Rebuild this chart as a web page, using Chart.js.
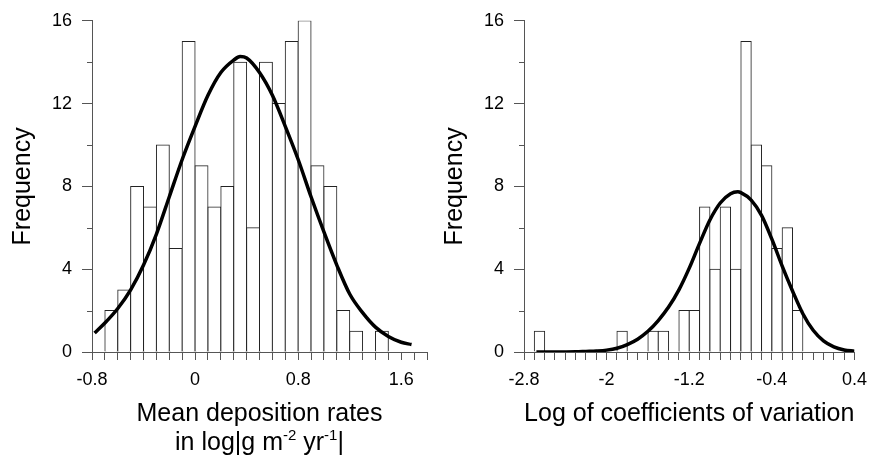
<!DOCTYPE html>
<html>
<head>
<meta charset="utf-8">
<script src="https://cdn.jsdelivr.net/npm/chart.js@4.4.0/dist/chart.umd.min.js"></script>
<style>
  html, body { margin: 0; padding: 0; background: #fff; }
  #wrap { position: relative; width: 876px; height: 459px; }
  .panel { position: absolute; top: 0; width: 438px; height: 459px; }
</style>
</head>
<body>
<div id="wrap">
  <div class="panel" style="left:0"><canvas id="chartLeft" width="438" height="459"></canvas></div>
  <div class="panel" style="left:438px"><canvas id="chartRight" width="438" height="459"></canvas></div>
</div>
<script>
// left panel: mean deposition rates (bin edges, counts per bin, fitted curve)
const leftEdges = [-0.8, -0.7, -0.6, -0.5, -0.4, -0.3, -0.2, -0.1, 0, 0.1, 0.2, 0.3, 0.4,
  0.5, 0.6, 0.7, 0.8, 0.9, 1.0, 1.1, 1.2, 1.3, 1.4, 1.5, 1.6, 1.7, 1.8];
const leftCounts = [0, 2, 3, 8, 7, 10, 5, 15, 9, 7, 8, 14, 6, 14, 12, 15, 16, 9, 8, 2, 1, 0, 1, 0, 0, 0];
const leftCurveX = [-0.78, -0.7, -0.6, -0.5, -0.4, -0.3, -0.2, -0.1, 0, 0.1, 0.2, 0.3, 0.35, 0.4,
  0.5, 0.6, 0.7, 0.8, 0.9, 1.0, 1.1, 1.2, 1.3, 1.4, 1.5, 1.6, 1.68];
const leftCurveY = [0.92, 1.4, 2.1, 3.0, 4.2, 5.7, 7.5, 9.3, 10.9, 12.4, 13.5, 14.1, 14.27, 14.2,
  13.5, 12.4, 10.9, 9.3, 7.5, 5.8, 4.2, 2.8, 1.9, 1.2, 0.75, 0.47, 0.36];
const leftTickLabels = [-0.8, 0, 0.8, 1.6];

// right panel: log of coefficients of variation
const rightEdges = [-2.8, -2.7, -2.6, -2.5, -2.4, -2.3, -2.2, -2.1, -2.0, -1.9, -1.8, -1.7, -1.6,
  -1.5, -1.4, -1.3, -1.2, -1.1, -1.0, -0.9, -0.8, -0.7, -0.6, -0.5, -0.4, -0.3, -0.2, -0.1,
  0, 0.1, 0.2, 0.3, 0.4];
const rightCounts = [0, 1, 0, 0, 0, 0, 0, 0, 0, 1, 0, 0, 1, 1, 0, 2, 2, 7, 4, 7, 4, 15, 10, 9,
  5, 6, 2, 0, 0, 0, 0, 0];
const rightCurveX = [-2.68, -2.5, -2.3, -2.2, -2.1, -2.0, -1.9, -1.8, -1.7, -1.6, -1.5, -1.4, -1.3,
  -1.2, -1.1, -1.0, -0.9, -0.8, -0.73, -0.7, -0.6, -0.5, -0.4, -0.3, -0.2, -0.1, 0, 0.1, 0.2, 0.3, 0.4];
const rightCurveY = [0, 0, 0.01, 0.03, 0.05, 0.09, 0.18, 0.36, 0.62, 1.0, 1.52, 2.17, 3.0,
  4.05, 5.25, 6.38, 7.2, 7.65, 7.74, 7.7, 7.34, 6.6, 5.45, 4.15, 2.95, 1.85, 1.05, 0.54, 0.25, 0.1, 0.04];
const rightTickLabels = [-2.8, -2, -1.2, -0.4, 0.4];

const yMinorTicks = [2, 6, 10, 14];

const FONT = "'Liberation Sans', Arial, sans-serif";
const AXIS = "#555";

function toBars(edges, counts) {
  return counts.map((c, i) => ({ x: (edges[i] + edges[i + 1]) / 2, y: c === 0 ? null : c }));
}

function toPoints(xs, ys) {
  return xs.map((x, i) => ({ x: x, y: ys[i] }));
}

// short minor ticks on the y axis + the x axis title (needs superscripts)
const extras = {
  id: "extras",
  afterDraw(chart, args, opts) {
    const ctx = chart.ctx;
    const yScale = chart.scales.y;
    ctx.save();
    ctx.strokeStyle = AXIS;
    ctx.lineWidth = 1;
    yMinorTicks.forEach((v) => {
      const py = Math.round(yScale.getPixelForValue(v)) + 0.5;
      ctx.beginPath();
      ctx.moveTo(yScale.right - 5, py);
      ctx.lineTo(yScale.right, py);
      ctx.stroke();
    });

    const cx = (chart.chartArea.left + chart.chartArea.right) / 2;
    const top = chart.scales.x.top;
    ctx.fillStyle = "#000";
    ctx.textBaseline = "alphabetic";
    ctx.textAlign = "left";
    opts.lines.forEach((parts, li) => {
      let w = 0;
      parts.forEach((p) => {
        ctx.font = (p.sup ? 15 : 25) + "px " + FONT;
        w += ctx.measureText(p.t).width;
      });
      let x = cx - w / 2;
      const base = top + 69 + li * 29;
      parts.forEach((p) => {
        ctx.font = (p.sup ? 15 : 25) + "px " + FONT;
        ctx.fillText(p.t, x, p.sup ? base - 10 : base);
        x += ctx.measureText(p.t).width;
      });
    });
    ctx.restore();
  },
};

function makeChart(canvas, cfg) {
  return new Chart(canvas, {
    type: "bar",
    data: {
      datasets: [
        {
          type: "line",
          data: toPoints(cfg.curveX, cfg.curveY),
          borderColor: "#000",
          borderWidth: 3.5,
          pointRadius: 0,
          cubicInterpolationMode: "monotone",
          fill: false,
          order: 0,
        },
        {
          type: "bar",
          data: toBars(cfg.edges, cfg.counts),
          backgroundColor: "#fff",
          borderColor: "#222",
          borderWidth: 1,
          inflateAmount: 0.5,
          barPercentage: 1,
          categoryPercentage: 1,
          order: 1,
        },
      ],
    },
    options: {
      responsive: false,
      animation: false,
      layout: { padding: { left: 0, top: 17, right: cfg.padRight, bottom: 0 } },
      plugins: {
        legend: { display: false },
        tooltip: { enabled: false },
        extras: { lines: cfg.title },
      },
      scales: {
        x: {
          type: "linear",
          min: cfg.edges[0],
          max: cfg.edges[cfg.edges.length - 1],
          offset: false,
          afterBuildTicks: (s) => {
            s.ticks = cfg.edges.map((v) => ({ value: v }));
          },
          ticks: {
            autoSkip: false,
            maxRotation: 0,
            padding: 9,
            color: "#000",
            font: { family: FONT, size: 18 },
            callback: (v) =>
              cfg.tickLabels.some((t) => Math.abs(t - v) < 1e-6) ? String(+v.toFixed(1)) : "",
          },
          grid: { drawOnChartArea: false, offset: false, tickLength: 8, color: AXIS },
          border: { color: AXIS, width: 1 },
          afterFit: (s) => {
            s.height = 107;
          },
        },
        y: {
          min: 0,
          max: 16,
          ticks: {
            stepSize: 4,
            padding: 10,
            color: "#000",
            font: { family: FONT, size: 18 },
          },
          grid: { drawOnChartArea: false, tickLength: 10, color: AXIS },
          border: { color: AXIS, width: 1 },
          title: {
            display: true,
            text: "Frequency",
            color: "#000",
            font: { family: FONT, size: 25, lineHeight: 1.2 },
            padding: { top: cfg.titlePad, bottom: 0 },
          },
          afterFit: (s) => {
            s.width = cfg.axisWidth;
          },
        },
      },
    },
    plugins: [extras],
  });
}

makeChart(document.getElementById("chartLeft"), {
  edges: leftEdges,
  counts: leftCounts,
  curveX: leftCurveX,
  curveY: leftCurveY,
  tickLabels: leftTickLabels,
  axisWidth: 92,
  padRight: 11,
  titlePad: 8,
  title: [
    [{ t: "Mean deposition rates" }],
    [{ t: "in log|g m" }, { t: "-2", sup: true }, { t: " yr" }, { t: "-1", sup: true }, { t: "|" }],
  ],
});

makeChart(document.getElementById("chartRight"), {
  edges: rightEdges,
  counts: rightCounts,
  curveX: rightCurveX,
  curveY: rightCurveY,
  tickLabels: rightTickLabels,
  axisWidth: 86,
  padRight: 17,
  titlePad: 2,
  title: [[{ t: "Log of coefficients of variation" }]],
});
</script>
</body>
</html>
